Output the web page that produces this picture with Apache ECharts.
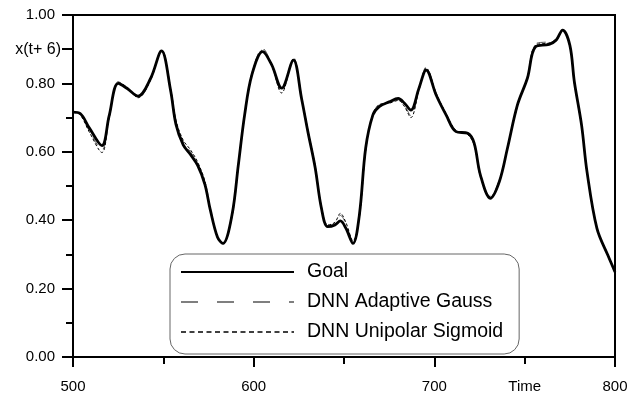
<!DOCTYPE html>
<html>
<head>
<meta charset="utf-8">
<script src="https://cdn.jsdelivr.net/npm/echarts@6/dist/echarts.min.js"></script>
<style>
  html, body { margin: 0; padding: 0; background: #fff; }
  #chart { width: 641px; height: 396px; }
</style>
</head>
<body>
<div id="chart"></div>
<script>
// time steps
const times = [500, 504, 509, 516, 520, 525, 530, 536, 543, 549, 554, 557, 561, 565, 569, 573, 576, 580, 583, 588,
  591.5, 595, 599, 605, 610, 615.5, 622, 626.5, 630, 634, 637.5, 641, 645, 648, 651, 655, 658.5, 662, 666, 669.5,
  675, 680, 683.5, 687, 691.5, 695.5, 701, 706.5, 712, 718.5, 722, 725.5, 731, 736, 740.5, 746, 751.5, 756, 763.5, 767.5,
  771, 775, 777.5, 781.5, 784.5, 790, 796, 800];

const goal = [0.716, 0.712, 0.670, 0.618, 0.705, 0.800, 0.785, 0.763, 0.815, 0.895, 0.780, 0.680, 0.620, 0.592, 0.560, 0.505, 0.430, 0.350, 0.332, 0.415,
  0.561, 0.708, 0.825, 0.893, 0.854, 0.786, 0.868, 0.756, 0.659, 0.555, 0.435, 0.381, 0.386, 0.398, 0.377, 0.332, 0.415, 0.611, 0.708, 0.732,
  0.746, 0.756, 0.742, 0.722, 0.786, 0.839, 0.766, 0.708, 0.659, 0.654, 0.626, 0.532, 0.464, 0.513, 0.611, 0.737, 0.815, 0.907, 0.914, 0.927,
  0.956, 0.912, 0.805, 0.678, 0.542, 0.376, 0.298, 0.249];

const gauss = [0.716, 0.710, 0.662, 0.606, 0.700, 0.805, 0.787, 0.760, 0.812, 0.900, 0.785, 0.688, 0.628, 0.600, 0.566, 0.510, 0.433, 0.350, 0.330, 0.412,
  0.558, 0.708, 0.830, 0.902, 0.856, 0.776, 0.876, 0.760, 0.662, 0.558, 0.438, 0.384, 0.392, 0.414, 0.390, 0.336, 0.410, 0.606, 0.712, 0.736,
  0.744, 0.752, 0.735, 0.706, 0.782, 0.848, 0.770, 0.710, 0.660, 0.652, 0.622, 0.530, 0.470, 0.518, 0.612, 0.735, 0.818, 0.915, 0.922, 0.930,
  0.955, 0.910, 0.802, 0.676, 0.540, 0.378, 0.300, 0.250];

const sigmoid = [0.716, 0.708, 0.658, 0.598, 0.698, 0.803, 0.789, 0.758, 0.810, 0.896, 0.788, 0.692, 0.634, 0.606, 0.570, 0.514, 0.436, 0.352, 0.334, 0.410,
  0.556, 0.704, 0.828, 0.898, 0.852, 0.772, 0.872, 0.762, 0.664, 0.560, 0.440, 0.386, 0.394, 0.420, 0.394, 0.340, 0.406, 0.604, 0.710, 0.738,
  0.742, 0.750, 0.732, 0.700, 0.780, 0.845, 0.772, 0.712, 0.662, 0.650, 0.620, 0.528, 0.468, 0.516, 0.610, 0.733, 0.820, 0.912, 0.918, 0.928,
  0.954, 0.908, 0.800, 0.674, 0.538, 0.378, 0.300, 0.250];

const yTickValues = [0, 0.2, 0.4, 0.6, 0.8, 0.9, 1.0];
const xLabelValues = [500, 600, 700, 750, 800];
const seriesNames = ['Goal', 'DNN Adaptive Gauss', 'DNN Unipolar Sigmoid'];

const pairs = (vals) => times.map((t, i) => [t, vals[i]]);

const chart = echarts.init(document.getElementById('chart'), null, { renderer: 'canvas' });

const font = 'Arial, "Liberation Sans", sans-serif';

const option = {
  animation: false,
  backgroundColor: '#fff',
  grid: {
    left: 73, right: 26, top: 15, bottom: 39,
    show: true, borderColor: '#000', borderWidth: 2
  },
  xAxis: {
    type: 'value',
    min: 500, max: 800, interval: 100,
    axisLine: { lineStyle: { color: '#000', width: 2 } },
    axisTick: { length: 10, lineStyle: { color: '#000', width: 2 } },
    minorTick: { show: true, splitNumber: 2, length: 7, lineStyle: { color: '#000', width: 2 } },
    splitLine: { show: false },
    axisLabel: {
      customValues: xLabelValues,
      margin: 22,
      color: '#000', fontSize: 15, fontFamily: font,
      formatter: (v) => (v === 750 ? 'Time' : String(v))
    }
  },
  yAxis: {
    type: 'value',
    min: 0, max: 1, interval: 0.2,
    axisLine: { lineStyle: { color: '#000', width: 2 } },
    axisTick: { customValues: yTickValues, length: 11, lineStyle: { color: '#000', width: 2 } },
    minorTick: { show: true, splitNumber: 2, length: 7, lineStyle: { color: '#000', width: 2 } },
    splitLine: { show: false },
    axisLabel: {
      customValues: yTickValues,
      margin: 12,
      color: '#000', fontSize: 15, fontFamily: font,
      formatter: (v) => (Math.abs(v - 0.9) < 1e-6 ? '{t|x(t+ 6)}' : '{n|' + v.toFixed(2) + '}'),
      rich: {
        n: { fontSize: 15, fontFamily: font, color: '#000', padding: [0, 6, 0, 0] },
        t: { fontSize: 16, fontFamily: font, color: '#000' }
      }
    }
  },
  legend: {
    data: [
      { name: seriesNames[0] },
      { name: seriesNames[1], lineStyle: { color: '#555', width: 1.6, type: [17, 19] } },
      { name: seriesNames[2], lineStyle: { color: '#000', width: 1.5, type: [5, 3.5] } }
    ],
    orient: 'vertical',
    left: 170, top: 254,
    itemWidth: 113, itemHeight: 18, itemGap: 10,
    padding: [8, 16, 12, 10],
    backgroundColor: '#fff',
    borderColor: '#666', borderWidth: 1, borderRadius: 15,
    itemStyle: { opacity: 0 },
    textStyle: { color: '#000', fontSize: 19.5, fontFamily: font, padding: [0, 0, 0, 8] }
  },
  series: [
    {
      name: seriesNames[1], type: 'line', data: pairs(gauss),
      smooth: 0.35, symbol: 'none', z: 2,
      lineStyle: { color: '#555', width: 1, type: [9, 8] }
    },
    {
      name: seriesNames[2], type: 'line', data: pairs(sigmoid),
      smooth: 0.35, symbol: 'none', z: 2,
      lineStyle: { color: '#000', width: 1, type: [3, 2] }
    },
    {
      name: seriesNames[0], type: 'line', data: pairs(goal),
      smooth: 0.35, symbol: 'none', z: 3,
      lineStyle: { color: '#000', width: 2.8 }
    }
  ]
};

chart.setOption(option);
</script>
</body>
</html>
